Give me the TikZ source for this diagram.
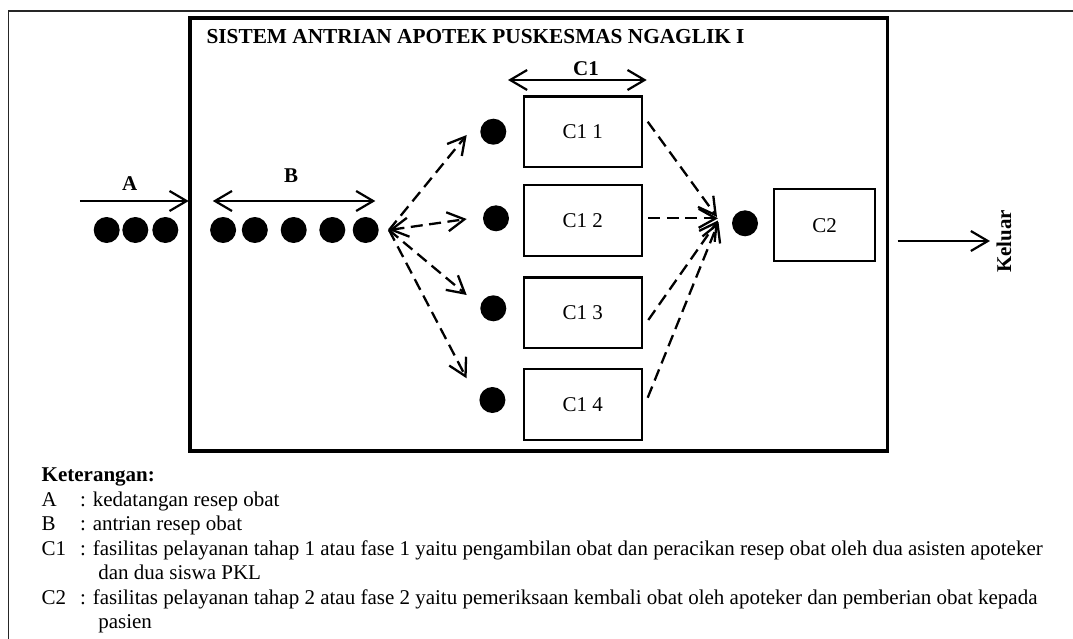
\documentclass[tikz,border=0pt]{standalone}
\usepackage{fontspec}
\setmainfont{Liberation Serif}
\usetikzlibrary{arrows.meta}
\begin{document}
\begin{tikzpicture}[x=1pt,y=-1pt,
  every node/.style={font=\fontsize{21}{24.5}\selectfont, inner sep=0pt, outer sep=0pt},
  lbl/.style={font=\bfseries\fontsize{21}{24.5}\selectfont},
  dot/.style={circle, fill=black, minimum size=26pt},
  facility/.style={draw, line width=2.2pt, minimum width=117.7pt, minimum height=70.8pt},
  solidarrow/.style={line width=2.2pt, -{Straight Barb[length=17pt,width=20pt]}},
  bothsolid/.style={line width=2.2pt, {Straight Barb[length=17pt,width=20pt]}-{Straight Barb[length=17pt,width=20pt]}},
  dasharrow/.style={line width=2.3pt, dash pattern=on 12pt off 6.5pt, -{Straight Barb[length=17pt,width=19pt]}},
  dashboth/.style={line width=2.3pt, dash pattern=on 12pt off 6.5pt, {Straight Barb[length=17pt,width=19pt]}-{Straight Barb[length=17pt,width=19pt]}},
]
\useasboundingbox (0,0) rectangle (1073,639);

% outer frame (clipped by the page)
\draw[line width=1.6pt, black!85] (1073,11) -- (8.3,11) -- (8.3,639);

% system box
\node[draw, line width=3.5pt, minimum width=697.7pt, minimum height=433pt] (sys) at (538.85,234.5) {};
\node[lbl, anchor=base west, font=\bfseries\fontsize{21.3}{24.5}\selectfont] (title) at (206.6,44) {SISTEM ANTRIAN APOTEK PUSKESMAS NGAGLIK I};

% arrivals A
\coordinate (aS) at (79.9,201);
\coordinate (aE) at (188.7,201);
\draw[solidarrow] (aS) -- (aE);
\node[lbl] (labA) at (129.8,183.3) {A};
\node[dot] (a1) at (106.7,230) {};
\node[dot] (a2) at (135.3,230) {};
\node[dot] (a3) at (165.3,230) {};

% queue B
\coordinate (bS) at (212.8,201);
\coordinate (bE) at (375.3,201);
\draw[bothsolid] (bS) -- (bE);
\node[lbl] (labB) at (291,176) {B};
\node[dot] (b1) at (223.1,230) {};
\node[dot] (b2) at (254.8,230) {};
\node[dot] (b3) at (293.7,230) {};
\node[dot] (b4) at (332.3,230) {};
\node[dot] (b5) at (365.7,230) {};

% C1 range
\coordinate (cS) at (508,80);
\coordinate (cE) at (646.7,80);
\draw[bothsolid] (cS) -- (cE);
\node[lbl] (labC1) at (586,69) {C1};

% C1 facilities
\node[facility] (f1) at (582.8,132) {C1 1};
\node[facility] (f2) at (582.8,220.5) {C1 2};
\node[facility] (f3) at (582.8,312.8) {C1 3};
\node[facility] (f4) at (582.8,404.7) {C1 4};

\node[dot] (d1) at (493.3,131.7) {};
\node[dot] (d2) at (496,218.3) {};
\node[dot] (d3) at (493.3,308.3) {};
\node[dot] (d4) at (492.4,400) {};

% fan out
\coordinate (fan) at (389,230);
\coordinate (t1) at (466.7,135);
\coordinate (t2) at (466.7,219);
\coordinate (t3) at (466.7,295);
\coordinate (t4) at (466.6,378.3);
\draw[dasharrow] (fan) -- (t1);
\draw[dashboth] (fan) -- (t2);
\draw[dasharrow] (fan) -- (t3);
\draw[dasharrow] (fan) -- (t4);

% fan in
\coordinate (s1) at (647.7,121.7);
\coordinate (s2) at (648.3,218.3);
\coordinate (s3) at (648.3,320);
\coordinate (s4) at (647.7,397.7);
\coordinate (m1) at (717,217);
\coordinate (m2) at (718,218.3);
\coordinate (m3) at (718,220.5);
\coordinate (m4) at (718.5,222);
\draw[dasharrow] (s1) -- (m1);
\draw[dasharrow] (s2) -- (m2);
\draw[dasharrow] (s3) -- (m3);
\draw[dasharrow] (s4) -- (m4);

% C2
\node[dot] (e1) at (745,223.3) {};
\node[draw, line width=2.2pt, minimum width=101pt, minimum height=71.7pt] (c2) at (824.5,225.2) {C2};

% exit
\coordinate (xS) at (897.7,241);
\coordinate (xE) at (990,241);
\draw[solidarrow] (xS) -- (xE);
\node[lbl, rotate=90] (keluar) at (1004,241.5) {Keluar};

% legend
\node[lbl, anchor=base west] (ket) at (41.7,481.5) {Keterangan:};
\node[anchor=base west] (lA) at (41.7,506) {A};
\node[anchor=base west] (tA) at (80,506) {: kedatangan resep obat};
\node[anchor=base west] (lB) at (41.7,530.5) {B};
\node[anchor=base west] (tB) at (80,530.5) {: antrian resep obat};
\node[anchor=base west] (lC1) at (41.7,555) {C1};
\node[anchor=base west] (tC1) at (80,555) {: fasilitas pelayanan tahap 1 atau fase 1 yaitu pengambilan obat dan peracikan resep obat oleh dua asisten apoteker};
\node[anchor=base west] (tC1b) at (98.3,579.5) {dan dua siswa PKL};
\node[anchor=base west] (lC2) at (41.7,604) {C2};
\node[anchor=base west] (tC2) at (80,604) {: fasilitas pelayanan tahap 2 atau fase 2 yaitu pemeriksaan kembali obat oleh apoteker dan pemberian obat kepada};
\node[anchor=base west] (tC2b) at (98.3,628.5) {pasien};
\end{tikzpicture}
\end{document}
